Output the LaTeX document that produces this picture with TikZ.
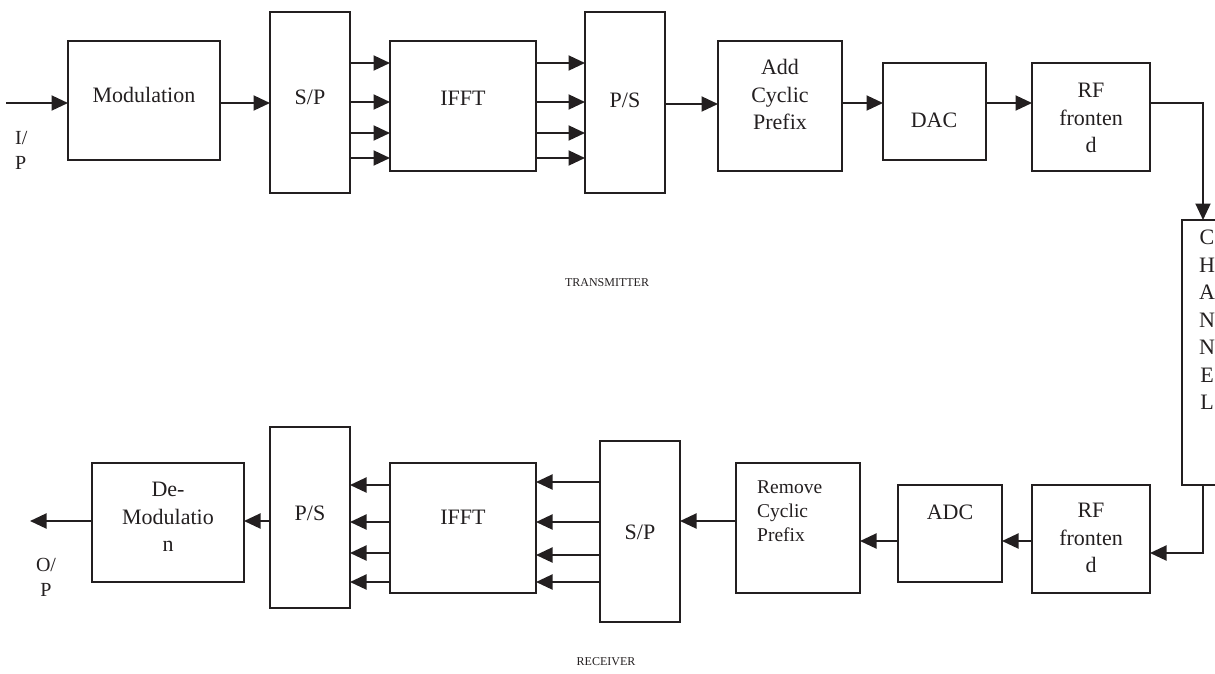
\documentclass[tikz,border=0pt]{standalone}
\usepackage{fontspec}
\setmainfont{Liberation Serif}
\usetikzlibrary{arrows.meta}
\definecolor{ink}{RGB}{35,31,32}
\begin{document}
\begin{tikzpicture}[x=1pt,y=-1pt,
  box/.style={draw=ink, line width=2pt, inner sep=0pt, outer sep=0pt, anchor=north west},
  arr/.style={draw=ink, line width=2pt, -{Triangle[length=16.5pt,width=15pt]}},
  lbl/.style={text=ink, font=\fontsize{22}{27.5}\selectfont, align=center, inner sep=0pt},
  small/.style={text=ink, font=\fontsize{12}{14}\selectfont, inner sep=0pt}]
\useasboundingbox (0,0) rectangle (1215,673);
% ---- transmitter boxes
\node[box, minimum width=152, minimum height=119] (mod)  at (68,41) {};
\node[box, minimum width=80,  minimum height=181] (sp)   at (270,12) {};
\node[box, minimum width=146, minimum height=130] (ifft) at (390,41) {};
\node[box, minimum width=80,  minimum height=181] (ps)   at (585,12) {};
\node[box, minimum width=124, minimum height=130] (acp)  at (718,41) {};
\node[box, minimum width=103, minimum height=97]  (dac)  at (883,63) {};
\node[box, minimum width=118, minimum height=108] (rf)   at (1032,63) {};
\node[box, minimum width=42,  minimum height=265] (chan) at (1182,220) {};
% ---- receiver boxes
\node[box, minimum width=152, minimum height=119] (demod) at (92,463) {};
\node[box, minimum width=80,  minimum height=181] (ps2)   at (270,427) {};
\node[box, minimum width=146, minimum height=130] (ifft2) at (390,463) {};
\node[box, minimum width=80,  minimum height=181] (sp2)   at (600,441) {};
\node[box, minimum width=124, minimum height=130] (rcp)   at (736,463) {};
\node[box, minimum width=104, minimum height=97]  (adc)   at (898,485) {};
\node[box, minimum width=118, minimum height=108] (rf2)   at (1032,485) {};
% ---- texts
\node[lbl] (tmod)  at (144,95) {Modulation};
\node[lbl] (tsp)   at (310,97) {S/P};
\node[lbl] (tifft) at (463,98) {IFFT};
\node[lbl] (tps)   at (625,100) {P/S};
\node[lbl] (tacp)  at (780,94.5) {Add\\Cyclic\\Prefix};
\node[lbl] (tdac)  at (934,120) {DAC};
\node[lbl] (trf)   at (1091,118) {RF\\fronten\\d};
\node[lbl] (tchan) at (1207,320) {C\\H\\A\\N\\N\\E\\L};
\node[lbl, align=left, anchor=west, font=\fontsize{20}{25}\selectfont] (tin) at (15,150) {I/\\P};
\node[lbl] (tdemod) at (168,517) {De-\\Modulatio\\n};
\node[lbl] (tps2)   at (310,513) {P/S};
\node[lbl] (tifft2) at (463,517) {IFFT};
\node[lbl] (tsp2)   at (640,532) {S/P};
\node[lbl, align=left, anchor=west, font=\fontsize{19.5}{24}\selectfont] (trcp) at (757,511) {Remove\\Cyclic\\Prefix};
\node[lbl] (tadc)  at (950,512) {ADC};
\node[lbl] (trf2)  at (1091,538) {RF\\fronten\\d};
\node[lbl, font=\fontsize{20}{25}\selectfont] (tout) at (46,577) {O/\\P};
\node[small] (ttx) at (607,283) {TRANSMITTER};
\node[small] (trx) at (606,662) {RECEIVER};
% ---- coordinates
\coordinate (in)  at (6,103);
\coordinate (out) at (30,521);
% ---- transmitter connectors
\draw[arr] (in) -- (mod.west |- in);
\draw[arr] (mod.east |- 0,103) -- (sp.west |- 0,103);
\foreach \y in {63,102,133,158} {
  \draw[arr] (sp.east |- 0,\y) -- (ifft.west |- 0,\y);
  \draw[arr] (ifft.east |- 0,\y) -- (ps.west |- 0,\y);
}
\draw[arr] (ps.east |- 0,104) -- (acp.west |- 0,104);
\draw[arr] (acp.east |- 0,103) -- (dac.west |- 0,103);
\draw[arr] (dac.east |- 0,103) -- (rf.west |- 0,103);
\draw[arr] (rf.east |- 0,103) -| (chan.north);
% ---- receiver connectors
\draw[arr] (chan.south) |- (rf2.east |- 0,553);
\draw[arr] (rf2.west |- 0,541) -- (adc.east |- 0,541);
\draw[arr] (adc.west |- 0,541) -- (rcp.east |- 0,541);
\draw[arr] (rcp.west |- 0,521) -- (sp2.east |- 0,521);
\foreach \y in {482,522,555,582}
  \draw[arr] (sp2.west |- 0,\y) -- (ifft2.east |- 0,\y);
\foreach \y in {485,522,553,582}
  \draw[arr] (ifft2.west |- 0,\y) -- (ps2.east |- 0,\y);
\draw[arr] (ps2.west |- 0,521) -- (demod.east |- 0,521);
\draw[arr] (demod.west |- 0,521) -- (out);
\end{tikzpicture}
\end{document}
